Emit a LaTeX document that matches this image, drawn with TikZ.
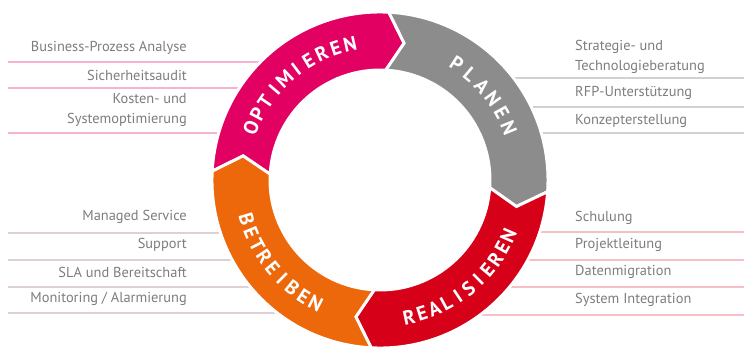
\documentclass[tikz,border=0pt]{standalone}
\usepackage{fontspec}
\setmainfont{PT Sans}
\usepackage{xcolor}
\usetikzlibrary{positioning}
\definecolor{optpink}{RGB}{226,0,98}
\definecolor{plangray}{RGB}{140,140,140}
\definecolor{realred}{RGB}{214,0,24}
\definecolor{betrorange}{RGB}{236,104,10}
\definecolor{itemgray}{RGB}{125,125,125}

\begin{document}
\begin{tikzpicture}[x=0.03cm, y=0.03cm,
                    item/.style={inner sep=0pt, text=itemgray, font=\fontsize{12.3}{16.5}\selectfont},
                    left item/.style={item, anchor=east, align=right},
                    right item/.style={item, anchor=west, align=left},
                    sep line/.style={line width=1.4pt},
                    ring seg/.style={draw=white, line width=2.5pt, line join=miter},
                    ring letter/.style={inner sep=0pt, text=white, font=\bfseries\fontsize{17}{17}\selectfont}]

    \useasboundingbox (0,0) rectangle (744,352);

    % separator lines
    \foreach \y in {290,264,219} \draw [sep line, optpink!30] (8,\y) -- (380,\y);
    \foreach \y in {119,92,65,39} \draw [sep line, realred!20!gray!30] (8,\y) -- (380,\y);
    \foreach \y in {274,245,219} \draw [sep line, plangray!40] (380,\y) -- (744,\y);
    \foreach \y in {120,92,65,37} \draw [sep line, realred!25] (380,\y) -- (744,\y);

    % left column
    \node [left item] (bpa) at (187,304) {Business-Prozess Analyse};
    \node [left item] (sa)  at (187,277) {Sicherheitsaudit};
    \node [left item] (kso) at (187,242) {Kosten- und\\Systemoptimierung};
    \node [left item] (ms)  at (187,135) {Managed Service};
    \node [left item] (sup) at (187,107) {Support};
    \node [left item] (sla) at (187,80)  {SLA und Bereitschaft};
    \node [left item] (mon) at (187,53)  {Monitoring / Alarmierung};

    % right column
    \node [right item] (stb) at (575,295) {Strategie- und\\Technologieberatung};
    \node [right item] (rfp) at (575,259) {RFP-Unterstützung};
    \node [right item] (kon) at (575,231) {Konzepterstellung};
    \node [right item] (sch) at (575,134) {Schulung};
    \node [right item] (pl)  at (575,107) {Projektleitung};
    \node [right item] (dm)  at (575,80)  {Datenmigration};
    \node [right item] (si)  at (575,52)  {System Integration};

    \begin{scope}[shift={(380,172)}]
        \fill [white] (0,0) circle [radius=113];
        % ring segments
        \foreach \s/\e/\col in {177/87/optpink, 87/-4/plangray, -4/-93/realred, -93/-183/betrorange}
            \filldraw [ring seg, fill=\col] (\s:168) arc [start angle=\s, end angle=\e, radius=168]
                -- ({\e-7}:139) -- (\e:110) arc [start angle=\e, end angle=\s, radius=110]
                -- ({\s-7}:139) -- cycle;
        % ring labels
        \foreach \ch [count=\i from 0] in {O,P,T,I,M,I,E,R,E,N}
            \node [ring letter, rotate=158-\i*6.17-90] (opt\i) at ({158-\i*6.17}:139) {\ch};
        \foreach \ch [count=\i from 0] in {P,L,A,N,E,N}
            \node [ring letter, rotate=56.5-\i*6.9-90] (pla\i) at ({56.5-\i*6.9}:139) {\ch};
        \foreach \ch [count=\i from 0] in {R,E,A,L,I,S,I,E,R,E,N}
            \node [ring letter, rotate=-78+\i*5.44+90] (rea\i) at ({-78+\i*5.44}:140) {\ch};
        \foreach \ch [count=\i from 0] in {B,E,T,R,E,I,B,E,N}
            \node [ring letter, rotate=196.3+\i*5.77+90] (bet\i) at ({196.3+\i*5.77}:139) {\ch};
    \end{scope}

\end{tikzpicture}
\end{document}
